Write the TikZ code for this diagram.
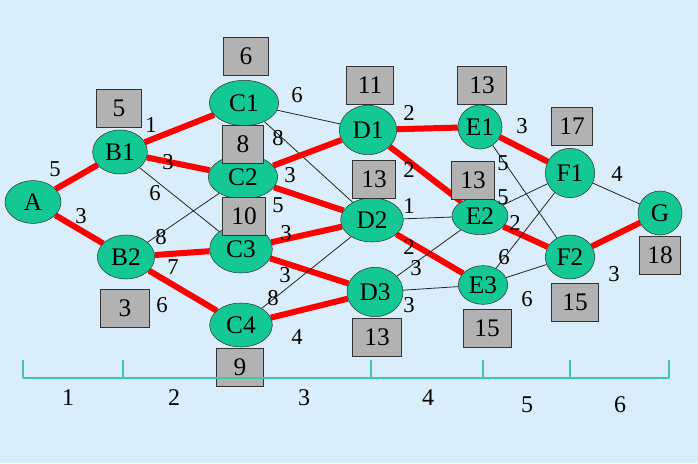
\documentclass[tikz,border=0pt]{standalone}
\usepackage{fontspec}
\setmainfont{Liberation Serif}
\usetikzlibrary{shapes.geometric}
\definecolor{sky}{RGB}{217,238,250}
\definecolor{jade}{RGB}{20,200,150}
\definecolor{rule}{RGB}{60,200,165}
\definecolor{tag}{RGB}{178,178,178}
\pgfdeclarelayer{bg}
\pgfdeclarelayer{back}
\pgfsetlayers{bg,back,main}

\begin{document}
\begin{tikzpicture}[x=0.75pt,y=-0.75pt,
  stage/.style={ellipse, draw=black!80, fill=jade, inner sep=0pt, font=\fontsize{19}{19}\selectfont},
  tagbox/.style={rectangle, draw=black!80, fill=tag, inner sep=0pt, minimum width=34pt, minimum height=28.5pt, font=\fontsize{19}{19}\selectfont},
  best/.style={red, line width=4.5pt},
  other/.style={black!85, line width=0.6pt},
  wt/.style={inner sep=0pt, font=\fontsize{17}{17}\selectfont},
  axis/.style={rule, line width=1.1pt},
  stagenum/.style={inner sep=0pt, font=\fontsize{18}{18}\selectfont}]
\begin{pgfonlayer}{bg}
\fill[sky] (0,0) rectangle (698,463);
\end{pgfonlayer}
\useasboundingbox (0,0) rectangle (698,463);

% stages
\node[stage, minimum width=42pt, minimum height=32pt] (A) at (33,202) {A};
\node[stage, minimum width=41pt, minimum height=33pt] (B1) at (120,152) {B1};
\node[stage, minimum width=43pt, minimum height=33pt] (B2) at (126,257) {B2};
\node[stage, minimum width=52pt, minimum height=34pt] (C1) at (244,103) {C1};
\node[stage, minimum width=52pt, minimum height=33pt] (C2) at (243,177) {C2};
\node[stage, minimum width=47pt, minimum height=36pt] (C3) at (241,249) {C3};
\node[stage, minimum width=47pt, minimum height=33pt] (C4) at (241,325) {C4};
\node[stage, minimum width=43pt, minimum height=37pt] (D1) at (368,130) {D1};
\node[stage, minimum width=47pt, minimum height=33pt] (D2) at (372,220) {D2};
\node[stage, minimum width=42pt, minimum height=37pt] (D3) at (375,292) {D3};
\node[stage, minimum width=33pt, minimum height=33pt] (E1) at (480,127) {E1};
\node[stage, minimum width=42pt, minimum height=28pt] (E2) at (480,216) {E2};
\node[stage, minimum width=37pt, minimum height=29pt] (E3) at (483,285) {E3};
\node[stage, minimum width=37pt, minimum height=37pt] (F1) at (570,173) {F1};
\node[stage, minimum width=37pt, minimum height=33pt] (F2) at (570,257) {F2};
\node[stage, minimum width=33pt, minimum height=33pt] (G) at (660,213) {G};

% connections
\begin{pgfonlayer}{back}
\draw[best] (A) -- (B1);
\draw[best] (A) -- (B2);
\draw[best] (B1) -- (C1);
\draw[best] (B1) -- (C2);
\draw[other] (B1) -- (C3);
\draw[other] (B2) -- (C2);
\draw[best] (B2) -- (C3);
\draw[best] (B2) -- (C4);
\draw[other] (C1) -- (D1);
\draw[other] (C1) -- (D2);
\draw[best] (C2) -- (D1);
\draw[best] (C2) -- (D2);
\draw[best] (C3) -- (D2);
\draw[best] (C3) -- (D3);
\draw[other] (C4) -- (D2);
\draw[best] (C4) -- (D3);
\draw[best] (D1) -- (E1);
\draw[best] (D1) -- (E2);
\draw[other] (D2) -- (E2);
\draw[best] (D2) -- (E3);
\draw[other] (D3) -- (E2);
\draw[other] (D3) -- (E3);
\draw[best] (E1) -- (F1);
\draw[other] (E1) -- (F2);
\draw[other] (E2) -- (F1);
\draw[best] (E2) -- (F2);
\draw[other] (E3) -- (F1);
\draw[other] (E3) -- (F2);
\draw[other] (F1) -- (G);
\draw[best] (F2) -- (G);
\end{pgfonlayer}

% weights
\node[wt] (wAB1) at (55,169) {5};
\node[wt] (wAB2) at (81,216) {3};
\node[wt] (wB1C1) at (151,125) {1};
\node[wt] (wB1C2) at (168,162) {3};
\node[wt] (wB1C3) at (155,193) {6};
\node[wt] (wB2C2) at (161,237) {8};
\node[wt] (wB2C3) at (173,267) {7};
\node[wt] (wB2C4) at (162,305) {6};
\node[wt] (wC1D1) at (297,95) {6};
\node[wt] (wC1D2) at (278,138) {8};
\node[wt] (wC2D1) at (290,175) {3};
\node[wt] (wC2D2) at (278,205) {5};
\node[wt] (wC3D2) at (286,233) {3};
\node[wt] (wC3D3) at (285,275) {3};
\node[wt] (wC4D2) at (273,298) {8};
\node[wt] (wC4D3) at (297,337) {4};
\node[wt] (wD1E1) at (409,113) {2};
\node[wt] (wD1E2) at (409,170) {2};
\node[wt] (wD2E2) at (409,206) {1};
\node[wt] (wD2E3) at (409,247) {2};
\node[wt] (wD3E2) at (416,268) {3};
\node[wt] (wD3E3) at (409,305) {3};
\node[wt] (wE1F1) at (522,126) {3};
\node[wt] (wE1F2) at (503,163) {5};
\node[wt] (wE2F1) at (503,197) {5};
\node[wt] (wE2F2) at (515,223) {2};
\node[wt] (wE3F1) at (504,257) {6};
\node[wt] (wE3F2) at (527,299) {6};
\node[wt] (wF1G) at (617,174) {4};
\node[wt] (wF2G) at (614,274) {3};

% shortest distances
\node[tagbox] (tB1) at (119,108) {5};
\node[tagbox, minimum width=37pt] (tB2) at (125,308) {3};
\node[tagbox] (tC1) at (246,56) {6};
\node[tagbox, minimum width=31pt] (tC2) at (243,144) {8};
\node[tagbox, minimum width=32pt] (tC3) at (244,216) {10};
\node[tagbox, minimum width=35pt] (tC4) at (240,367) {9};
\node[tagbox, minimum width=35pt] (tD1) at (370,85) {11};
\node[tagbox, minimum width=32pt] (tD2) at (374,179) {13};
\node[tagbox, minimum width=37pt] (tD3) at (377,337) {13};
\node[tagbox, minimum width=37pt] (tE1) at (482,85) {13};
\node[tagbox, minimum width=32pt] (tE2) at (473,180) {13};
\node[tagbox, minimum width=36pt] (tE3) at (487,328) {15};
\node[tagbox, minimum width=31pt] (tF1) at (572,126) {17};
\node[tagbox, minimum width=35pt] (tF2) at (575,302) {15};
\node[tagbox, minimum width=31pt] (tG) at (660,255) {18};

% stage axis
\draw[axis] (23,378) -- (669,378);
\foreach \tx in {23,123,371,483,570,669}
  \draw[axis] (\tx,360) -- (\tx,378);
\node[stagenum] (s1) at (68,398) {1};
\node[stagenum] (s2) at (174,398) {2};
\node[stagenum] (s3) at (304,398) {3};
\node[stagenum] (s4) at (428,398) {4};
\node[stagenum] (s5) at (527,405) {5};
\node[stagenum] (s6) at (620,405) {6};
\end{tikzpicture}
\end{document}
